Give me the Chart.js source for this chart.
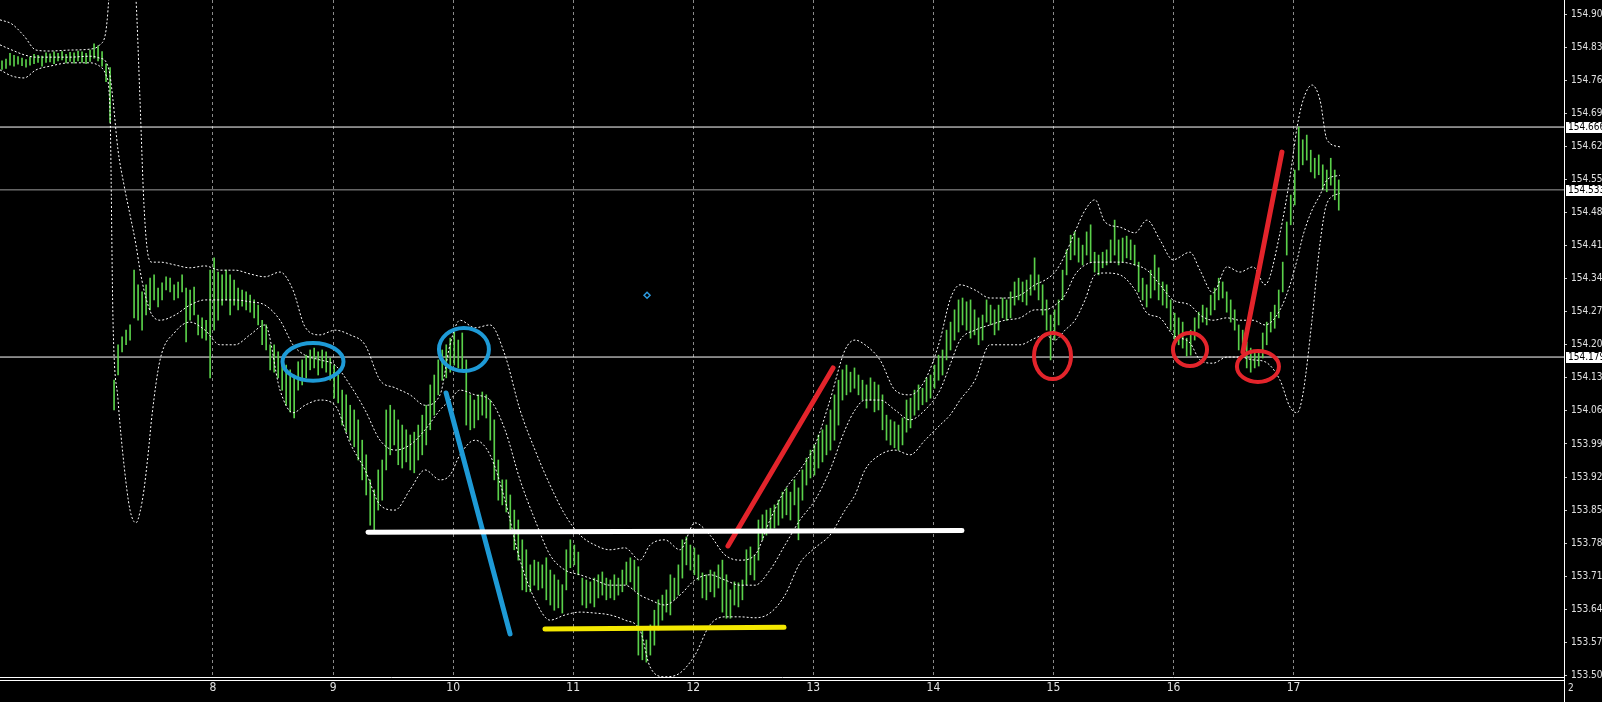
<!DOCTYPE html>
<html>
<head>
<meta charset="utf-8">
<script src="https://cdn.jsdelivr.net/npm/chart.js@4.4.1/dist/chart.umd.min.js"></script>
<style>
  html, body { margin: 0; padding: 0; background: #000; }
  #wrap { width: 1602px; height: 702px; }
  canvas { background: #000; }
</style>
</head>
<body>
<div id="wrap"><canvas id="priceChart" width="1602" height="702"></canvas></div>
<script>
// time axis is in days of the month, one bar every 1/30 day
const barStart = 6.2427;
const barStep = 1 / 30;
const dayTicks = [8, 9, 10, 11, 12, 13, 14, 15, 16, 17];
const priceTicks = [153.505, 153.575, 153.645, 153.715, 153.785, 153.855, 153.925, 153.995, 154.065, 154.135,
  154.205, 154.275, 154.345, 154.415, 154.485, 154.555, 154.625, 154.695, 154.765, 154.835, 154.905];

const barLows = [
  154.788, 154.790, 154.797, 154.795, 154.799, 154.796, 154.793, 154.797, 154.800, 154.803,
  154.795, 154.803, 154.804, 154.800, 154.806, 154.808, 154.802, 154.805, 154.801, 154.806,
  154.803, 154.800, 154.805, 154.812, 154.806, 154.795, 154.762, 154.676,
  154.067, 154.141, 154.190, 154.205, 154.215, 154.262, 154.257, 154.236, 154.268, 154.279,
  154.300, 154.285, 154.300, 154.321, 154.317, 154.300, 154.304, 154.317, 154.211, 154.257,
  154.268, 154.226, 154.219, 154.215, 154.135,
  154.236, 154.257, 154.289, 154.300, 154.268, 154.289, 154.279, 154.287, 154.279, 154.274,
  154.262, 154.247, 154.205, 154.194, 154.152, 154.147, 154.135, 154.109, 154.077, 154.063, 154.050, 154.109,
  154.120, 154.135, 154.152, 154.156, 154.141, 154.156, 154.147, 154.130, 154.092, 154.082,
  154.035, 154.020, 154.003, 153.989, 153.961, 153.919, 153.887, 153.823, 153.813, 153.855,
  153.876, 153.940, 153.972, 153.993, 153.951, 153.944, 153.957, 153.940, 153.934, 153.961,
  153.972, 153.993, 154.025, 154.056, 154.099, 154.130, 154.135, 154.147, 154.162, 154.156,
  154.152, 154.035, 154.025, 154.029, 154.046, 154.056, 154.050, 154.003, 153.919, 153.876,
  153.866, 153.851, 153.813, 153.771, 153.749, 153.686, 153.682,
  153.682, 153.696, 153.686, 153.690, 153.665, 153.654, 153.643, 153.648, 153.637, 153.686,
  153.733, 153.739, 153.718, 153.654, 153.648, 153.658, 153.650, 153.669, 153.675, 153.665,
  153.669, 153.665, 153.675, 153.682, 153.697, 153.703, 153.686, 153.548,
  153.538, 153.533, 153.548, 153.569, 153.601, 153.622, 153.639, 153.633, 153.665, 153.675,
  153.711, 153.739, 153.728, 153.718, 153.707, 153.669, 153.665, 153.682, 153.671, 153.690,
  153.639, 153.626, 153.626, 153.654, 153.650, 153.665, 153.697, 153.718, 153.707, 153.749,
  153.792, 153.802, 153.809, 153.817, 153.823, 153.838, 153.845, 153.834, 153.866, 153.792,
  153.876, 153.908, 153.923, 153.929, 153.944, 153.957, 153.972, 153.982, 154.003, 154.035,
  154.088, 154.099, 154.105, 154.113, 154.099,
  154.088, 154.071, 154.088, 154.063, 154.067, 154.025, 154.003, 153.993, 153.987, 153.982,
  153.993, 154.020, 154.029, 154.056, 154.067, 154.078, 154.084, 154.092, 154.113, 154.130,
  154.141, 154.173, 154.194, 154.215, 154.232,
  154.247, 154.236, 154.219, 154.226, 154.205, 154.215, 154.253, 154.247, 154.226, 154.236,
  154.262, 154.257, 154.262, 154.289, 154.300, 154.296, 154.289, 154.310, 154.321, 154.300,
  154.268, 154.236, 154.173, 154.215, 154.247, 154.300, 154.353, 154.385, 154.395, 154.380,
  154.374, 154.395, 154.380, 154.359, 154.353, 154.368, 154.374, 154.380, 154.395, 154.374,
  154.380, 154.389, 154.385, 154.374, 154.317, 154.300, 154.285, 154.304, 154.321, 154.300,
  154.289, 154.283, 154.236, 154.209, 154.205, 154.198, 154.181, 154.183, 154.215, 154.240,
  154.253, 154.247, 154.268, 154.279, 154.300, 154.304, 154.274, 154.253, 154.236, 154.194,
  154.190, 154.156, 154.147, 154.156, 154.160, 154.177, 154.205, 154.232, 154.240, 154.262,
  154.317, 154.395, 154.459, 154.501, 154.575, 154.586, 154.596, 154.571, 154.558, 154.565,
  154.533, 154.529, 154.543, 154.512, 154.490
];

const barHighs = [
  154.806, 154.810, 154.822, 154.818, 154.815, 154.812, 154.809, 154.814, 154.820, 154.818,
  154.816, 154.823, 154.821, 154.825, 154.822, 154.826, 154.820, 154.824, 154.823, 154.827,
  154.825, 154.822, 154.829, 154.842, 154.838, 154.826, 154.800, 154.792,
  154.130, 154.205, 154.222, 154.236, 154.247, 154.363, 154.332, 154.317, 154.332, 154.346,
  154.353, 154.325, 154.336, 154.349, 154.346, 154.332, 154.338, 154.353, 154.325, 154.321,
  154.327, 154.268, 154.262, 154.257, 154.363,
  154.389, 154.359, 154.353, 154.363, 154.353, 154.342, 154.325, 154.321, 154.317, 154.310,
  154.300, 154.289, 154.257, 154.247, 154.205, 154.205, 154.190, 154.173, 154.162, 154.152, 154.141, 154.169,
  154.173, 154.183, 154.194, 154.198, 154.190, 154.194, 154.190, 154.177, 154.162, 154.141,
  154.109, 154.099, 154.077, 154.067, 154.046, 154.003, 153.972, 153.919, 153.898, 153.940,
  153.961, 154.067, 154.077, 154.067, 154.046, 154.035, 154.025, 154.014, 154.020, 154.035,
  154.056, 154.077, 154.120, 154.141, 154.173, 154.194, 154.205, 154.219, 154.232, 154.215,
  154.230, 154.173, 154.099, 154.088, 154.099, 154.105, 154.099, 154.088, 154.046, 153.961,
  153.919, 153.919, 153.887, 153.855, 153.834, 153.792, 153.771,
  153.739, 153.749, 153.745, 153.739, 153.754, 153.728, 153.718, 153.707, 153.697, 153.771,
  153.792, 153.781, 153.766, 153.711, 153.707, 153.703, 153.711, 153.718, 153.724, 153.711,
  153.707, 153.718, 153.711, 153.728, 153.745, 153.754, 153.749, 153.735,
  153.601, 153.580, 153.612, 153.643, 153.665, 153.675, 153.686, 153.718, 153.711, 153.739,
  153.792, 153.798, 153.781, 153.775, 153.760, 153.722, 153.718, 153.728, 153.724, 153.739,
  153.749, 153.718, 153.686, 153.703, 153.701, 153.707, 153.771, 153.777, 153.760, 153.834,
  153.845, 153.855, 153.859, 153.866, 153.876, 153.893, 153.902, 153.893, 153.919, 153.902,
  153.940, 153.965, 153.982, 153.993, 154.014, 154.025, 154.035, 154.067, 154.099, 154.130,
  154.152, 154.162, 154.147, 154.156, 154.141,
  154.130, 154.120, 154.135, 154.126, 154.120, 154.099, 154.056, 154.046, 154.042, 154.035,
  154.050, 154.088, 154.092, 154.109, 154.120, 154.113, 154.135, 154.141, 154.162, 154.183,
  154.194, 154.236, 154.253, 154.279, 154.300,
  154.304, 154.296, 154.300, 154.279, 154.262, 154.268, 154.300, 154.289, 154.279, 154.289,
  154.304, 154.300, 154.317, 154.338, 154.346, 154.338, 154.342, 154.353, 154.389, 154.353,
  154.332, 154.300, 154.268, 154.279, 154.300, 154.363, 154.406, 154.437, 154.444, 154.431,
  154.416, 154.444, 154.459, 154.401, 154.395, 154.401, 154.406, 154.427, 154.469, 154.427,
  154.431, 154.435, 154.427, 154.416, 154.380, 154.346, 154.332, 154.363, 154.395, 154.368,
  154.338, 154.332, 154.300, 154.272, 154.262, 154.253, 154.219, 154.236, 154.262, 154.274,
  154.289, 154.283, 154.310, 154.325, 154.346, 154.338, 154.317, 154.300, 154.279, 154.247,
  154.236, 154.211, 154.198, 154.190, 154.194, 154.230, 154.253, 154.274, 154.289, 154.321,
  154.380, 154.465, 154.522, 154.575, 154.666, 154.639, 154.649, 154.617, 154.600, 154.607,
  154.586, 154.575, 154.600, 154.575, 154.554
];

// Bollinger bands, read at these days
const bandDays = [
  6.226, 6.326, 6.426, 6.526, 6.642, 6.809, 6.976, 7.056, 7.109, 7.142,
  7.167, 7.209, 7.259, 7.309, 7.359, 7.392, 7.425, 7.459, 7.492, 7.559,
  7.684, 7.808, 7.933, 8.058, 8.183, 8.308, 8.433, 8.558, 8.666, 8.766,
  8.891, 9.016, 9.141, 9.266, 9.391, 9.516, 9.641, 9.766, 9.891, 9.974,
  10.057, 10.182, 10.307, 10.432, 10.557, 10.682, 10.807, 10.932, 11.057, 11.181,
  11.306, 11.431, 11.556, 11.640, 11.764, 11.889, 12.014, 12.139, 12.264, 12.389,
  12.514, 12.639, 12.764, 12.889, 13.014, 13.139, 13.264, 13.347, 13.430, 13.555,
  13.680, 13.805, 13.930, 14.055, 14.138, 14.222, 14.346, 14.471, 14.596, 14.721,
  14.846, 14.929, 15.013, 15.096, 15.179, 15.263, 15.346, 15.429, 15.554, 15.679,
  15.779, 15.887, 15.995, 16.137, 16.220, 16.329, 16.445, 16.553, 16.662, 16.762,
  16.887, 16.970, 17.029, 17.079, 17.153, 17.220, 17.278, 17.386
];
const bandUpper = [
  154.893, 154.884, 154.859, 154.829, 154.827, 154.829, 154.831, 154.840, 154.871, 154.977,
  155.104, 155.253, 155.316, 155.062, 154.935, 154.723, 154.501, 154.395, 154.380, 154.380,
  154.374, 154.368, 154.372, 154.363, 154.363, 154.355, 154.349, 154.359, 154.321, 154.243,
  154.226, 154.236, 154.226, 154.205, 154.130, 154.114, 154.099, 154.077, 154.099, 154.205,
  154.257, 154.241, 154.247, 154.183, 154.067, 153.982, 153.908, 153.845, 153.802, 153.781,
  153.771, 153.775, 153.749, 153.781, 153.792, 153.771, 153.828, 153.802, 153.760, 153.749,
  153.760, 153.834, 153.898, 153.940, 153.993, 154.088, 154.194, 154.215, 154.205, 154.173,
  154.109, 154.099, 154.130, 154.215, 154.300, 154.332, 154.321, 154.304, 154.304, 154.310,
  154.332, 154.342, 154.359, 154.395, 154.444, 154.490, 154.512, 154.465, 154.454, 154.442,
  154.469, 154.427, 154.385, 154.401, 154.363, 154.315, 154.370, 154.359, 154.370, 154.332,
  154.442, 154.560, 154.666, 154.723, 154.755, 154.723, 154.639, 154.624
];
const bandMiddle = [
  154.840, 154.829, 154.819, 154.814, 154.814, 154.814, 154.816, 154.812, 154.804, 154.776,
  154.723, 154.617, 154.543, 154.480, 154.416, 154.363, 154.321, 154.289, 154.268, 154.257,
  154.268, 154.289, 154.300, 154.300, 154.300, 154.296, 154.289, 154.257, 154.205, 154.183,
  154.173, 154.162, 154.120, 154.067, 154.003, 153.982, 153.993, 154.025, 154.067, 154.088,
  154.109, 154.099, 154.088, 154.025, 153.919, 153.834, 153.760, 153.728, 153.718, 153.707,
  153.696, 153.696, 153.675, 153.665, 153.654, 153.675, 153.707, 153.718, 153.707, 153.696,
  153.696, 153.728, 153.781, 153.834, 153.876, 153.940, 154.025, 154.067, 154.088, 154.088,
  154.067, 154.046, 154.067, 154.109, 154.162, 154.215, 154.236, 154.247, 154.257, 154.262,
  154.279, 154.279, 154.289, 154.310, 154.353, 154.374, 154.380, 154.380, 154.380, 154.374,
  154.363, 154.332, 154.300, 154.289, 154.268, 154.257, 154.262, 154.257, 154.257, 154.247,
  154.279, 154.332, 154.385, 154.437, 154.490, 154.522, 154.554, 154.564
];
const bandLower = [
  154.787, 154.774, 154.770, 154.787, 154.795, 154.802, 154.802, 154.795, 154.776, 154.702,
  154.257, 154.088, 153.950, 153.855, 153.828, 153.851, 153.898, 153.972, 154.056, 154.173,
  154.232, 154.253, 154.236, 154.205, 154.205, 154.226, 154.247, 154.109, 154.061, 154.077,
  154.088, 154.077, 153.997, 153.940, 153.866, 153.855, 153.898, 153.940, 153.919, 153.929,
  153.972, 154.003, 153.972, 153.876, 153.749, 153.665, 153.622, 153.633, 153.639, 153.637,
  153.633, 153.622, 153.601, 153.523, 153.502, 153.510, 153.548, 153.612, 153.629, 153.629,
  153.627, 153.637, 153.675, 153.743, 153.775, 153.802, 153.855, 153.887, 153.940, 153.972,
  153.982, 153.972, 154.003, 154.035, 154.056, 154.088, 154.130, 154.205, 154.205, 154.205,
  154.219, 154.226, 154.215, 154.236, 154.257, 154.300, 154.353, 154.357, 154.353, 154.321,
  154.272, 154.262, 154.226, 154.209, 154.173, 154.166, 154.179, 154.179, 154.173, 154.169,
  154.130, 154.073, 154.061, 154.103, 154.257, 154.420, 154.505, 154.526
];

// horizontal price lines
const priceLines = [154.666, 154.533, 154.179];
const priceLineColors = ['#ffffff', '#9c9c9c', '#ffffff'];

// hand drawn trend lines: white, yellow, blue, red, red
const trendDays = [[9.291, 14.238], [10.765, 12.756], [9.941, 10.474], [12.289, 13.164], [16.578, 16.903]];
const trendPrices = [[153.808, 153.812], [153.603, 153.607], [154.103, 153.593], [153.779, 154.156], [154.190, 154.613]];
const trendColors = ['#ffffff', '#f4e800', '#1e9ad6', '#e3242b', '#e3242b'];

// hand drawn ovals
const ovalDays = [8.833, 10.090, 14.992, 16.137, 16.703];
const ovalPrices = [154.169, 154.195, 154.181, 154.195, 154.159];
const ovalDayRadius = [0.254, 0.208, 0.154, 0.142, 0.175];
const ovalPriceRadius = [0.040, 0.0455, 0.0487, 0.035, 0.0328];
const ovalColors = ['#1e9ad6', '#1e9ad6', '#e3242b', '#e3242b', '#e3242b'];

const markerDay = 11.615;
const markerPrice = 154.310;

const xMin = 6.226;
const xMax = 19.252;

const axisFont = "'Liberation Sans Narrow', 'DejaVu Sans Condensed', 'Liberation Sans'";

function bandData(values) {
  return bandDays.map((d, i) => ({ x: d, y: values[i] }));
}

const datasets = [];

datasets.push({
  type: "bar",
  data: barLows.map((lo, i) => ({ x: barStart + i * barStep, y: [lo, barHighs[i]] })),
  backgroundColor: "#5ad04a",
  borderWidth: 0,
  barThickness: 1,
  order: 5,
});

[bandUpper, bandMiddle, bandLower].forEach((band) => {
  datasets.push({
    type: "line",
    data: bandData(band),
    borderColor: "#ffffff",
    borderWidth: 1,
    borderDash: [2, 2],
    pointRadius: 0,
    cubicInterpolationMode: "monotone",
    order: 4,
  });
});

priceLines.forEach((p, i) => {
  datasets.push({
    type: "line",
    data: [{ x: xMin, y: p }, { x: xMax, y: p }],
    borderColor: priceLineColors[i],
    borderWidth: 1,
    pointRadius: 0,
    order: 6,
  });
});

trendDays.forEach((days, i) => {
  datasets.push({
    type: "line",
    data: days.map((d, j) => ({ x: d, y: trendPrices[i][j] })),
    borderColor: trendColors[i],
    borderWidth: 5,
    borderCapStyle: "round",
    pointRadius: 0,
    order: 2,
  });
});

datasets.push({
  type: "line",
  data: [{ x: markerDay, y: markerPrice }],
  showLine: false,
  pointStyle: "rectRot",
  pointRadius: 3,
  pointBorderColor: "#2d9be0",
  pointBackgroundColor: "#000000",
  pointBorderWidth: 1.5,
  order: 1,
});

// ovals, price tags on the axis and the bottom window border
const overlay = {
  id: "overlay",
  afterDatasetsDraw(chart) {
    const { ctx, scales: { x, y } } = chart;
    ctx.save();
    ovalDays.forEach((d, i) => {
      const cx = x.getPixelForValue(d);
      const cy = y.getPixelForValue(ovalPrices[i]);
      const rx = x.getPixelForValue(d + ovalDayRadius[i]) - cx;
      const ry = cy - y.getPixelForValue(ovalPrices[i] + ovalPriceRadius[i]);
      ctx.beginPath();
      ctx.ellipse(cx, cy, rx, ry, 0, 0, Math.PI * 2);
      ctx.lineWidth = 4;
      ctx.strokeStyle = ovalColors[i];
      ctx.stroke();
    });
    ctx.restore();
  },
  afterDraw(chart) {
    const { ctx, chartArea, scales: { y } } = chart;
    ctx.save();
    ctx.strokeStyle = "#ffffff";
    ctx.lineWidth = 1;
    ctx.beginPath();
    ctx.moveTo(0, chartArea.bottom + 3.5);
    ctx.lineTo(chartArea.right, chartArea.bottom + 3.5);
    ctx.moveTo(chartArea.right + 0.5, chartArea.bottom);
    ctx.lineTo(chartArea.right + 0.5, chart.height);
    ctx.stroke();

    ctx.font = "10px " + axisFont;
    ctx.textBaseline = "middle";
    priceLines.forEach((p) => {
      const py = Math.round(y.getPixelForValue(p));
      ctx.fillStyle = "#ffffff";
      ctx.fillRect(y.left + 2, py - 5, chart.width - y.left - 2, 11);
      ctx.fillStyle = "#000000";
      ctx.fillText(p.toFixed(3), y.left + 4, py + 0.5);
    });
    ctx.fillStyle = "#e0e0e0";
    ctx.fillText("2", y.left + 4, chartArea.bottom + 11);
    ctx.restore();
  },
};

const ctx = document.getElementById("priceChart").getContext("2d");
const priceChart = new Chart(ctx, {
  type: "bar",
  data: { datasets: datasets },
  options: {
    responsive: false,
    animation: false,
    events: [],
    layout: { padding: 0, autoPadding: false },
    scales: {
      x: {
        type: "linear",
        min: xMin,
        max: xMax,
        offset: false,
        afterBuildTicks: (s) => { s.ticks = dayTicks.map((v) => ({ value: v })); },
        afterFit: (s) => { s.height = 25; s.paddingLeft = 0; s.paddingRight = 0; },
        grid: { offset: false, color: "#8a8a8a", lineWidth: 1, drawTicks: false },
        border: { color: "#ffffff", width: 1, dash: [3, 3] },
        ticks: {
          color: "#e0e0e0",
          font: { family: axisFont, size: 12 },
          padding: 4,
          maxRotation: 0,
          autoSkip: false,
          callback: (v) => String(v),
        },
      },
      y: {
        position: "right",
        min: 153.5016,
        max: 154.935,
        beginAtZero: false,
        afterBuildTicks: (s) => { s.ticks = priceTicks.map((v) => ({ value: v })); },
        afterFit: (s) => { s.width = 38; s.paddingTop = 0; s.paddingBottom = 0; },
        grid: { drawOnChartArea: false, drawTicks: true, tickLength: 3, color: "#c8c8c8" },
        border: { color: "#ffffff", width: 1 },
        ticks: {
          color: "#e0e0e0",
          font: { family: axisFont, size: 10 },
          padding: 4,
          autoSkip: false,
          callback: (v) => v.toFixed(3),
        },
      },
    },
    plugins: {
      legend: { display: false },
      tooltip: { enabled: false },
    },
  },
  plugins: [overlay],
});
</script>
</body>
</html>
